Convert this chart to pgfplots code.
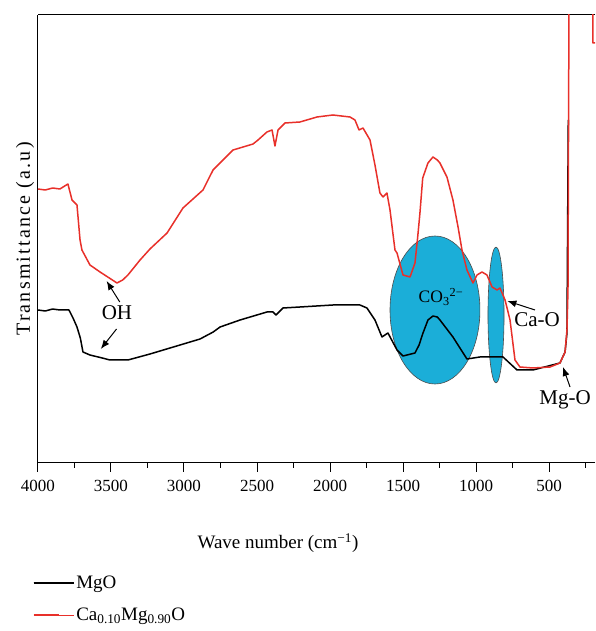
\documentclass[border=0pt]{standalone}
\usepackage{fontspec}
\setmainfont{Liberation Serif}
\usepackage{pgfplots}
\pgfplotsset{compat=1.18}
\usetikzlibrary{arrows.meta}
\definecolor{myred}{RGB}{232,48,42}
\definecolor{mycyan}{RGB}{27,174,216}
\begin{document}
\fontsize{17}{20}\selectfont
\begin{tikzpicture}[
  arr/.style={-{Latex[length=9pt,width=7pt]}, line width=1pt},
  lab/.style={font=\fontsize{21}{24}\selectfont}]
\useasboundingbox (0,0) rectangle (595pt,631pt);
\begin{axis}[
  at={(38pt,168pt)}, anchor=south west,
  scale only axis, width=557pt, height=448pt,
  xmin=185, xmax=4000, x dir=reverse,
  ymin=0, ymax=448,
  axis y line*=left, axis x line=box,
  xtick pos=bottom, xtick align=outside,
  xtick={500,1000,1500,2000,2500,3000,3500,4000},
  minor xtick={250,750,1250,1750,2250,2750,3250,3750},
  major tick length=9pt, minor tick length=5pt,
  ytick=\empty,
  every tick/.style={black, line width=1pt},
  axis line style={line width=1pt},
  /pgf/number format/assume math mode=true,
  /pgf/number format/1000 sep={},
  xticklabel style={font=\fontsize{17}{20}\selectfont, yshift=-2pt},
  ylabel={Transmittance (a.u)},
  ylabel style={font=\fontsize{20}{24}\selectfont\addfontfeature{LetterSpace=11}, yshift=-2pt},
  legend style={at={(-0.0156,-0.242)}, anchor=north west, draw=none, fill=none,
    font=\fontsize{19}{22}\selectfont, row sep=13pt, cells={anchor=west}},
  legend image code/.code={\draw[#1, line width=2pt, line cap=butt] (0pt,0.2pt) -- (25pt,0.2pt); \path (0pt,0pt) -- (40pt,0pt);},
  clip=true,
  line join=round,
]
\fill[mycyan, draw=black!70, line width=0.6pt] (axis cs:1281,153) ellipse [x radius=308, y radius=74];
\fill[mycyan, draw=black!70, line width=0.6pt] (axis cs:863,148) ellipse [x radius=55, y radius=68];
\addplot[black, line width=1.5pt] coordinates {
(4000,153) (3950,152) (3900,154) (3850,153) (3788,153) (3760,145) (3733,136) (3710,125) (3692,111) (3644,108) (3560,105) (3507,103)
(3384,103) (3233,109) (3027,118) (2890,124) (2800,131) (2753,136) (2616,143) (2432,151)
(2390,151) (2370,148) (2322,155) (2206,156) (1980,158) (1795,158) (1747,155)
(1692,143) (1644,126) (1603,130) (1541,113) (1500,107) (1418,110) (1390,118) (1363,130)
(1329,143) (1295,147) (1265,146) (1247,143) (1158,126) (1062,104) (973,106) (815,106) (719,93)
(610,93) (425,100) (390,111) (377,130) (368,343)
};
\addlegendentry{MgO}
\addplot[myred, line width=1.5pt] coordinates {
(4000,274) (3950,273) (3900,275) (3850,274) (3795,279) (3767,263) (3733,258) (3712,223) (3699,213)
(3644,198) (3575,191) (3459,180) (3420,183) (3384,188) (3301,203) (3233,214) (3116,230)
(3007,255) (2870,273) (2801,293) (2664,313) (2527,319) (2493,323) (2432,331)
(2397,333) (2377,317) (2356,333) (2308,340) (2206,341) (2089,346) (1980,348)
(1863,346) (1829,343) (1801,333) (1774,335) (1726,323) (1692,298) (1658,270)
(1637,266) (1610,270) (1589,253) (1555,213) (1541,210) (1500,188) (1452,186)
(1418,200) (1400,225) (1384,250) (1365,285) (1329,300) (1295,306) (1265,303) (1247,300) (1199,286)
(1158,263) (1123,236) (1096,213) (1062,193) (1021,180) (993,188) (959,191) (925,188)
(890,176) (856,173) (836,175) (801,163) (767,143) (733,103) (699,96)
(610,95) (493,96) (425,100) (390,111) (377,133) (370,173) (363,470)
(200,470) (199,420) (185,420)
};
\addlegendentry{Ca\textsubscript{0.10}Mg\textsubscript{0.90}O}
\node[lab] at (axis cs:3459,150) {OH};
\draw[arr] (axis cs:3440,161) -- (axis cs:3530,182);
\draw[arr] (axis cs:3462,134) -- (axis cs:3570,114);
\node[font=\fontsize{17.5}{20}\selectfont] at (axis cs:1240,166) {CO\textsubscript{3}\textsuperscript{2−}};
\node[lab] at (axis cs:582,143) {Ca-O};
\draw[arr] (axis cs:596,153) -- (axis cs:785,162);
\node[lab] at (axis cs:390,63) {Mg-O};
\draw[arr] (axis cs:356,76) -- (axis cs:404,96);
\end{axis}
\node[font=\fontsize{19}{22}\selectfont] at (278pt,88pt) {Wave number (cm\textsuperscript{−1})};
\end{tikzpicture}
\end{document}
